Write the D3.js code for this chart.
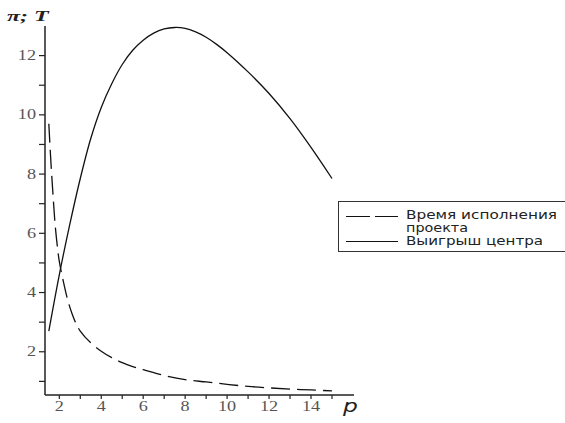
<!DOCTYPE html>
<html><head><meta charset="utf-8">
<script src="https://cdn.jsdelivr.net/npm/d3@7"></script>
<style>body{margin:0;background:#fff}svg{display:block}
.serif{font-family:"Liberation Serif","DejaVu Serif",serif}
</style>
</head><body>
<svg id="c" width="565" height="423"></svg>
<script>
// Data
const pT = [1.5,1.6,1.7,1.8,1.9,2.0,2.2,2.4,2.6,2.8,3.0,3.5,4.0,4.5,5.0,5.5,6.0,7.0,8.0,9.0,10.0,11.0,12.0,13.0,14.0,15.0];
const timeValues = [9.7,8.4,7.3,6.3,5.6,5.05,4.35,3.75,3.3,2.95,2.7,2.3,2.02,1.8,1.63,1.5,1.4,1.2,1.06,0.98,0.9,0.83,0.78,0.74,0.71,0.68];
const pW = [1.5,2.0,2.5,3.0,3.5,4.0,4.5,5.0,5.5,6.0,6.5,7.0,7.5,8.0,8.5,9.0,9.5,10.0,11.0,12.0,13.0,14.0,15.0];
const winValues = [2.7,4.6,6.3,7.85,9.2,10.25,11.05,11.7,12.18,12.52,12.76,12.9,12.95,12.92,12.8,12.62,12.38,12.1,11.45,10.72,9.87,8.9,7.85];
const xMajor = [2,4,6,8,10,12,14];
const xMinor = [3,5,7,9,11,13,15];
const yMajor = [2,4,6,8,10,12];
const yMinor = [1,3,5,7,9,11];
const legendLabels = [["Время исполнения","проекта"],["Выигрыш центра"]];
const yLabel = "π; T";
const xLabel = "p";

const svg = d3.select("#c");
const x = d3.scaleLinear().domain([1.318, 16.05]).range([45, 354]);
const y = d3.scaleLinear().domain([0.54, 13.0]).range([395, 26]);

const axisColor = "#222";
const labelColor = "#555";

// axes lines
svg.append("line").attr("x1",x.range()[0]).attr("x2",x.range()[1]).attr("y1",y.range()[0]).attr("y2",y.range()[0]).attr("stroke",axisColor).attr("stroke-width",1.5);
svg.append("line").attr("x1",x.range()[0]).attr("x2",x.range()[0]).attr("y1",y.range()[0]).attr("y2",y.range()[1]).attr("stroke",axisColor).attr("stroke-width",1.5);

// x ticks
const gx = svg.append("g");
xMajor.concat(xMinor).forEach(v=>{
  gx.append("line").attr("x1",x(v)).attr("x2",x(v)).attr("y1",y.range()[0]).attr("y2",y.range()[0]+4).attr("stroke",axisColor).attr("stroke-width",1.2);
});
xMajor.forEach(v=>{
  gx.append("text").attr("class","serif").attr("transform",`translate(${x(v)},${411}) scale(1.3,1)`).attr("text-anchor","middle")
    .attr("font-size",14).attr("fill",labelColor).text(v);
});
// y ticks
const gy = svg.append("g");
yMajor.concat(yMinor).forEach(v=>{
  gy.append("line").attr("x1",x.range()[0]-6).attr("x2",x.range()[0]).attr("y1",y(v)).attr("y2",y(v)).attr("stroke",axisColor).attr("stroke-width",1.2);
});
yMajor.forEach(v=>{
  gy.append("text").attr("class","serif").attr("transform",`translate(${x.range()[0]-9},${y(v)+4.5}) scale(1.3,1)`).attr("text-anchor","end")
    .attr("font-size",14).attr("fill",labelColor).text(v);
});

// axis titles
svg.append("text").attr("class","serif").attr("transform","translate(7,21) scale(1.6,1)")
  .attr("font-style","italic").attr("font-weight","bold").attr("font-size",15).attr("fill","#222").text(yLabel);
svg.append("text").attr("transform","translate(343,412) scale(1.3,1)")
  .attr("font-family","DejaVu Sans").attr("font-style","italic").attr("font-size",18).attr("fill","#222").text(xLabel);

// curves
const line = d3.line().x(d=>x(d[0])).y(d=>y(d[1])).curve(d3.curveCatmullRom);
svg.append("path").datum(d3.zip(pW, winValues)).attr("d", line).attr("fill","none").attr("stroke","#111").attr("stroke-width",1.3);
svg.append("path").datum(d3.zip(pT, timeValues)).attr("d", line).attr("fill","none").attr("stroke","#111").attr("stroke-width",1.3).attr("stroke-dasharray","19,7");

// legend
const lg = svg.append("g");
lg.append("rect").attr("x",338.5).attr("y",201.5).attr("width",240).attr("height",50).attr("fill","#fff").attr("stroke","#333").attr("stroke-width",1);
lg.append("line").attr("x1",346).attr("x2",398).attr("y1",216.5).attr("y2",216.5).attr("stroke","#111").attr("stroke-width",1.2).attr("stroke-dasharray","24,5");
lg.append("line").attr("x1",346).attr("x2",398).attr("y1",241.5).attr("y2",241.5).attr("stroke","#111").attr("stroke-width",1.2);
const addT = (t, yy, len) => lg.append("text").attr("x",406).attr("y",yy).attr("font-family","DejaVu Sans").attr("font-size",12).attr("fill","#222")
  .attr("textLength",len).attr("lengthAdjust","spacingAndGlyphs").text(t);
addT(legendLabels[0][0], 219, 151);
addT(legendLabels[0][1], 231.5, 62);
addT(legendLabels[1][0], 245, 137);
</script>
</body></html>
